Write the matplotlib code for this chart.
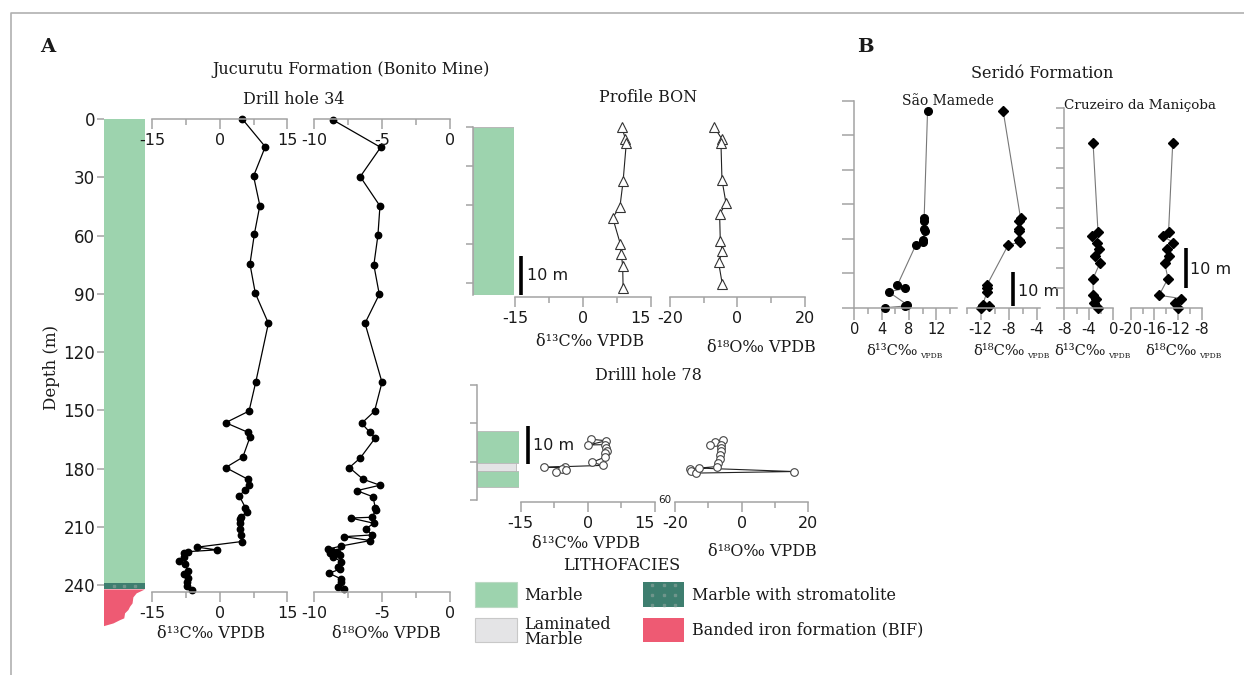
import matplotlib
matplotlib.use("Agg")
import matplotlib.pyplot as plt
from matplotlib.patches import Rectangle, Polygon

plt.rcParams["axes.unicode_minus"] = False
plt.rcParams["font.family"] = "DejaVu Sans"

W, H = 1244, 675
SERIF = "DejaVu Serif"
GRAY = "#a3a3a3"
MARBLE = "#9dd3ae"
STROMATOLITE = "#3e7e6f"
BIF = "#ee5a73"
LAMINATED = "#e4e4e6"

# ---------------- data ----------------
# Drill hole 34 (depth in m)
dh34_c_depth = [0, 14.3, 29.4, 44.6, 59, 74.7, 89.8, 105.2, 135.4, 150.4, 156.4, 161.3,
                163.9, 174.2, 179.5, 185.5, 188.3, 191.0, 194.0, 200.2, 202.2, 204.8,
                206.0, 208.2, 211.1, 214.2, 217.6, 220.5, 221.9, 222.8, 223.3, 225.7,
                227.4, 229.1, 232.6, 234.5, 236.5, 238.2, 240.3, 242.4]
dh34_c = [5.0, 10.1, 7.5, 8.9, 7.7, 6.7, 7.9, 10.8, 8.0, 6.5, 1.3, 6.2, 6.7, 5.1, 1.3,
          6.2, 6.4, 5.7, 4.3, 5.7, 6.1, 4.8, 4.5, 4.4, 4.5, 4.8, 4.9, -5.0, -0.7, -7.0,
          -8.0, -8.0, -9.1, -7.8, -7.1, -7.9, -7.1, -7.3, -7.3, -6.2]
dh34_o_depth = [0.5, 14.6, 29.7, 44.8, 59.9, 75.2, 90.3, 105.2, 135.6, 150.5, 156.7,
                161.3, 164.3, 174.6, 179.5, 185.5, 188.6, 191.4, 194.6, 200.3, 201.5,
                205.1, 205.5, 208.2, 211.1, 214.2, 215.1, 217.1, 219.9, 221.6, 222.6,
                223.0, 223.7, 224.5, 225.4, 228.0, 230.5, 231.9, 233.9, 236.9, 238.3,
                241.1, 242.0]
dh34_o = [-8.6, -5.1, -6.6, -5.15, -5.3, -5.6, -5.2, -6.25, -5.0, -5.55, -6.5, -5.9,
          -5.5, -6.6, -7.4, -6.4, -5.15, -6.85, -5.65, -5.5, -5.45, -5.75, -7.3, -5.6,
          -6.2, -5.7, -7.8, -5.85, -8.0, -9.0, -8.7, -8.3, -8.8, -8.1, -8.6, -8.0,
          -8.2, -8.1, -8.9, -8.0, -8.0, -8.2, -7.8]

# Profile BON
bon_depth = [0, 3.0, 4.2, 13.9, 20.5, 23.3, 30.1, 32.7, 35.6, 41.4]
bon_c = [8.6, 9.4, 9.6, 8.9, 8.2, 6.6, 8.3, 8.5, 8.8, 8.9]
bon_o_depth = [0, 3.0, 4.2, 13.6, 19.6, 22.4, 29.2, 31.9, 34.8, 40.4]
bon_o = [-6.9, -4.7, -4.9, -4.6, -3.4, -5.3, -5.1, -4.5, -5.6, -4.5]

# Drill hole 78
dh78_c_depth = [14.1, 14.5, 15.6, 15.5, 16.5, 17.1, 17.7, 18.7, 20.1, 20.9, 21.4, 21.4,
                21.9, 22.5, 22.2]
dh78_c = [0.7, 4.1, 0.1, 3.9, 4.0, 4.3, 3.9, 3.85, 1.0, 3.3, -9.7, -5.0, -5.8, -7.2, -4.9]
dh78_o_depth = [14.4, 14.9, 15.6, 15.6, 16.5, 17.1, 18.2, 19.2, 20.3, 21.2, 21.8, 22.3,
                22.9, 22.5, 21.6]
dh78_o = [-5.7, -8.1, -9.5, -6.1, -6.2, -6.1, -6.5, -6.6, -7.1, -7.3, -15.5, -15.3,
          -13.6, 15.6, -12.9]

# Serido Formation - Sao Mamede (height in m)
sm_height = [57.2, 25.9, 25.3, 22.9, 22.3, 19.7, 19.1, 18.1, 6.6, 5.6, 4.6, 0.9, 0.5, 0]
sm_c = [10.7, 10.2, 10.2, 10.2, 10.3, 10.0, 10.05, 8.96, 6.3, 7.4, 5.0, 7.7, 7.45, 4.5]
sm_o = [-8.8, -6.3, -6.5, -6.5, -6.5, -6.5, -6.4, -8.1, -11.1, -11.1, -11.1, -11.7,
        -10.8, -12.0]

# Serido Formation - Cruzeiro da Manicoba
cm_height = [41.1, 19.0, 17.9, 16.3, 14.8, 12.9, 11.1, 7.3, 3.1, 2.3, 1.3, 0]
cm_c = [-3.3, -2.5, -3.4, -2.7, -2.3, -3.0, -2.2, -3.3, -3.3, -2.9, -3.1, -2.55]
cm_o = [-12.9, -13.6, -14.6, -12.8, -13.9, -13.5, -14.25, -13.7, -15.2, -11.5, -12.5, -12.0]

# Lithology
dh34_marble = (0, 238.8)
dh34_stromatolite = (238.8, 242.2)
bif_edge_depth = [242.2, 244.2, 246.3, 249.4, 251.1, 252.8, 254.5, 257.1, 258.0, 259.7, 261.1]
bif_edge_frac = [1.0, 0.80, 0.72, 0.70, 0.64, 0.60, 0.52, 0.50, 0.40, 0.24, 0.01]
dh78_layers = [(11.9, 20.3, MARBLE, 1.0), (20.3, 22.5, LAMINATED, 0.92),
               (22.5, 26.6, MARBLE, 1.0)]

fig = plt.figure(figsize=(W / 100, H / 100), dpi=100)


def bare_axes(x0, y0, x1, y1):
    """Axes placed in pixel coordinates (origin top-left), no spines or ticks."""
    ax = fig.add_axes([x0 / W, 1 - y1 / H, (x1 - x0) / W, (y1 - y0) / H])
    ax.patch.set_visible(False)
    for sp in ax.spines.values():
        sp.set_visible(False)
    ax.set_xticks([])
    ax.set_yticks([])
    return ax


def setup_xaxis(ax, xlim, major, minor, labelsize=11.5, major_len=7, minor_len=4, pad=3):
    ax.set_xlim(*xlim)
    ax.spines["bottom"].set_visible(True)
    ax.spines["bottom"].set_color(GRAY)
    ax.spines["bottom"].set_linewidth(1.1)
    ax.set_xticks(major)
    ax.set_xticks(minor, minor=True)
    labels = ax.set_xticklabels([f"{v:g}" for v in major])
    ax.tick_params(axis="x", which="major", length=major_len, width=1.1, color=GRAY,
                   labelsize=labelsize, pad=pad, labelcolor="#1a1a1a")
    ax.tick_params(axis="x", which="minor", length=minor_len, width=1.1, color=GRAY)
    return labels


def setup_yaxis(ax, ticks, length=5, spine=True, labels=False, labelsize=12):
    ax.spines["left"].set_visible(spine)
    ax.spines["left"].set_color(GRAY)
    ax.spines["left"].set_linewidth(1.1)
    ax.set_yticks(ticks)
    if labels:
        ax.set_yticklabels([f"{v:g}" for v in ticks])
    else:
        ax.set_yticklabels([])
    ax.tick_params(axis="y", length=length, width=1.1, color=GRAY, labelsize=labelsize,
                   pad=1, labelcolor="#1a1a1a")


canvas = bare_axes(0, 0, W, H)
canvas.set_xlim(0, W)
canvas.set_ylim(H, 0)


def txt(x, y, s, size=11.5, family=SERIF, **kw):
    kw.setdefault("ha", "center")
    kw.setdefault("va", "center")
    canvas.text(x, y, s, fontsize=size, family=family, color="#1a1a1a", **kw)


def scale_bar(x, y0, y1, tx, ty):
    canvas.plot([x, x], [y0, y1], color="black", lw=2.6, solid_capstyle="butt")
    txt(tx, ty, "10 m", size=11.5, family="DejaVu Sans", ha="left")


# frame
canvas.plot([11, 11, W], [H, 13, 13], color="#b0b0b0", lw=1.2)

# ================= A : Drill hole 34 =================
lith34 = bare_axes(103.5, 119, 145, 628.1)
lith34.set_xlim(0, 1)
lith34.set_ylim(262.1, 0)
setup_yaxis(lith34, list(range(0, 241, 30)), length=5, spine=False, labels=True)
lith34.add_patch(Rectangle((0, dh34_marble[0]), 1, dh34_marble[1] - dh34_marble[0],
                           fc=MARBLE, ec="none"))
lith34.add_patch(Rectangle((0, dh34_stromatolite[0]), 1,
                           dh34_stromatolite[1] - dh34_stromatolite[0],
                           fc=STROMATOLITE, ec="none"))
lith34.plot([0.25, 0.5, 0.75], [sum(dh34_stromatolite) / 2] * 3, "s", ms=1.8,
            color="#6f958b", ls="none")
bif_poly = [(f, d) for f, d in zip(bif_edge_frac, bif_edge_depth)]
bif_poly += [(0, bif_edge_depth[-1]), (0, bif_edge_depth[0])]
lith34.add_patch(Polygon(bif_poly, closed=True, fc=BIF, ec="none"))

c34 = bare_axes(152.3, 119, 287.3, 592)
c34.set_ylim(243.6, 0)
setup_xaxis(c34, (-15, 15), [-15, 0, 15], [-7.5, 7.5])
c34.plot(dh34_c, dh34_c_depth, "-o", color="black", lw=0.9, ms=4.6, clip_on=False)
c34_top = bare_axes(152.3, 119, 287.3, 119.05)
setup_xaxis(c34_top, (-15, 15), [-15, 0, 15], [-7.5, 7.5])

o34 = bare_axes(314, 119, 450, 592)
o34.set_ylim(243.6, 0)
setup_xaxis(o34, (-10, 0), [-10, -5, 0], [-7.5, -2.5])
o34.plot(dh34_o, dh34_o_depth, "-o", color="black", lw=0.9, ms=4.6, clip_on=False)
o34_top = bare_axes(314, 119, 450, 119.05)
setup_xaxis(o34_top, (-10, 0), [-10, -5, 0], [-7.5, -2.5])

txt(48, 47, "A", size=14, weight="bold")
txt(351, 70, "Jucurutu Formation (Bonito Mine)")
txt(294, 100, "Drill hole 34")
txt(52, 367, "Depth (m)", size=12, rotation=90)
txt(211.5, 633, "δ¹³C‰ VPDB")
txt(386, 633, "δ¹⁸O‰ VPDB")

# ================= A : Profile BON =================
lbon = bare_axes(472.7, 127, 514.3, 295)
lbon.set_xlim(0, 1)
lbon.set_ylim(43.2, 0)
setup_yaxis(lbon, [0, 10, 20, 30, 40], length=5)
lbon.add_patch(Rectangle((0, 0), 1, 43.2, fc=MARBLE, ec="#b8b8b8", lw=0.8))

bc = bare_axes(515, 127, 650.7, 296.7)
bc.set_ylim(43.6, 0)
setup_xaxis(bc, (-15, 15), [-15, 0, 15], [-7.5, 7.5])[-1].set_ha("right")
bc.plot(bon_c, bon_depth, "-^", color="#222222", lw=0.8, ms=6.5, mfc="white",
        mec="#333333", mew=0.8, clip_on=False)

bo = bare_axes(670, 127, 805, 296.7)
bo.set_ylim(43.6, 0)
setup_xaxis(bo, (-20, 20), [-20, 0, 20], [-10, 10])
bo.plot(bon_o, bon_o_depth, "-^", color="#222222", lw=0.8, ms=6.5, mfc="white",
        mec="#333333", mew=0.8, clip_on=False)

scale_bar(521, 256, 295, 527, 275)
txt(648, 98, "Profile BON")
txt(590, 342, "δ¹³C‰ VPDB")
txt(761.5, 347, "δ¹⁸O‰ VPDB")

# ================= A : Drill hole 78 =================
l78 = bare_axes(476.7, 385, 519, 500)
l78.set_xlim(0, 1)
l78.set_ylim(30, 0)
setup_yaxis(l78, [0, 10, 20, 30], length=5)
for top, bot, col, width in dh78_layers:
    l78.add_patch(Rectangle((0, top), width, bot - top, fc=col, ec="#b8b8b8", lw=0.6))

c78 = bare_axes(520.7, 385, 655, 502.3)
c78.set_ylim(30.5, 0)
setup_xaxis(c78, (-15, 15), [-15, 0, 15], [-7.5, 7.5])[-1].set_ha("right")
c78.plot(dh78_c, dh78_c_depth, "-o", color="#222222", lw=0.8, ms=5.5, mfc="white",
         mec="#444444", mew=0.8, clip_on=False)

o78 = bare_axes(675, 385, 808.3, 502.3)
o78.set_ylim(30.5, 0)
setup_xaxis(o78, (-20, 20), [-20, 0, 20], [-10, 10])
o78.plot(dh78_o, dh78_o_depth, "-o", color="#222222", lw=0.8, ms=5.5, mfc="white",
         mec="#444444", mew=0.8, clip_on=False)

scale_bar(527.7, 425.7, 464, 533, 445)
txt(648, 375, "Drilll hole 78")
txt(665, 500, "60", size=7.5, family="DejaVu Sans")
txt(586, 543, "δ¹³C‰ VPDB")
txt(762, 551, "δ¹⁸O‰ VPDB")

# ================= Lithofacies legend =================
txt(621.7, 565, "LITHOFACIES")
canvas.add_patch(Rectangle((475, 581.7), 42.3, 25.6, fc=MARBLE, ec="#bcd9c4", lw=0.8))
canvas.add_patch(Rectangle((475, 618.3), 42.3, 23.7, fc=LAMINATED, ec="#c8c8c8", lw=0.8))
canvas.add_patch(Rectangle((642.7, 581.7), 41.6, 25.6, fc=STROMATOLITE, ec="none"))
canvas.add_patch(Rectangle((642.7, 618.3), 41.6, 23.7, fc=BIF, ec="none"))
for yy in (584.5, 594.5, 604.5):
    canvas.plot([652, 663.5, 675], [yy] * 3, "s", ms=1.8, color="#6f958b", ls="none")
txt(524.3, 595, "Marble", ha="left")
txt(524.3, 632, "Laminated\nMarble", ha="left", linespacing=0.85)
txt(691.7, 595, "Marble with stromatolite", ha="left")
txt(691.7, 630, "Banded iron formation (BIF)", ha="left")

# ================= B : Serido Formation =================
txt(865, 47, "B", size=14, weight="bold")
txt(1042, 73, "Seridó Formation")
txt(947.5, 101, "São Mamede", size=10)
txt(1140, 105, "Cruzeiro da Maniçoba", size=9.7)

smc = bare_axes(854.3, 101, 957, 307.7)
smc.set_ylim(0, 60)
setup_yaxis(smc, list(range(0, 61, 10)), length=8.5)
setup_xaxis(smc, (0, 15), [0, 4, 8, 12], [2, 6, 10, 14], labelsize=10.5,
            major_len=8.5, minor_len=4.5, pad=1.5)
smc.plot(sm_c, sm_height, "-o", color="#777777", lw=0.8, ms=5.5, mfc="black",
         mec="black", clip_on=False)

smo = bare_axes(966.7, 101, 1039.5, 307.7)
smo.set_ylim(0, 60)
setup_xaxis(smo, (-14, -3.6), [-12, -8, -4], [-14, -10, -6], labelsize=10.5,
            major_len=8.5, minor_len=4.5, pad=1.5)
smo.plot(sm_o, sm_height, "-D", color="#777777", lw=0.8, ms=5, mfc="black",
         mec="black", clip_on=False)

cmc = bare_axes(1064.3, 107.7, 1113.3, 307.7)
cmc.set_ylim(0, 50)
setup_yaxis(cmc, list(range(0, 51, 5)), length=6)
setup_xaxis(cmc, (-8, 0), [-8, -4, 0], [-6, -2], labelsize=10.5,
            major_len=8.5, minor_len=4.5, pad=1.5)
cmc.plot(cm_c, cm_height, "-D", color="#777777", lw=0.8, ms=5, mfc="black",
         mec="black", clip_on=False)

cmo = bare_axes(1130.7, 107.7, 1201.7, 307.7)
cmo.set_ylim(0, 50)
setup_xaxis(cmo, (-20, -8), [-20, -16, -12, -8], [-18, -14, -10], labelsize=10.5,
            major_len=8.5, minor_len=4.5, pad=1.5)
cmo.plot(cm_o, cm_height, "-D", color="#777777", lw=0.8, ms=5, mfc="black",
         mec="black", clip_on=False)

scale_bar(1012.7, 271.7, 305.7, 1018, 292)
scale_bar(1185.7, 248.3, 288.3, 1190, 270)

for right, main in [(918, "δ¹³C‰"), (1025, "δ¹⁸C‰"), (1106, "δ¹³C‰"), (1197, "δ¹⁸C‰")]:
    txt(right, 351, main, size=10.5, ha="right")
    txt(right + 2, 356, "VPDB", size=5.5, ha="left")

fig.savefig("out.png", dpi=100)
